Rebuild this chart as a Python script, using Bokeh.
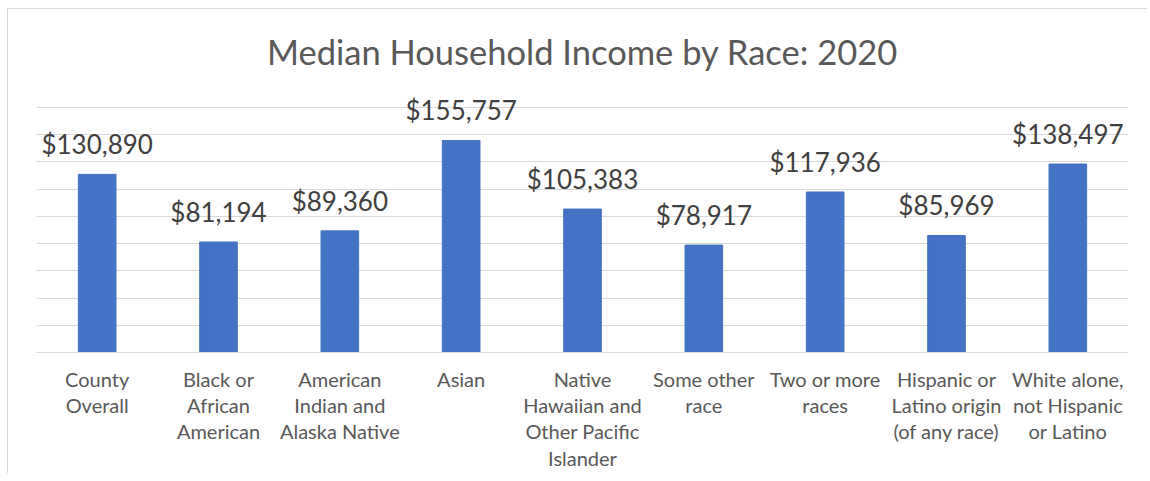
from bokeh.plotting import figure
from bokeh.models import ColumnDataSource, FactorRange, Range1d, LabelSet, Label, FixedTicker
from bokeh.core.properties import value
from bokeh.embed import file_html
from bokeh.resources import INLINE

categories = [
    "County\nOverall",
    "Black or\nAfrican\nAmerican",
    "American\nIndian and\nAlaska Native",
    "Asian",
    "Native\nHawaiian and\nOther Pacific\nIslander",
    "Some other\nrace",
    "Two or more\nraces",
    "Hispanic or\nLatino origin\n(of any race)",
    "White alone,\nnot Hispanic\nor Latino",
]
values = [130890, 81194, 89360, 155757, 105383, 78917, 117936, 85969, 138497]
labels = ["${:,}".format(v) for v in values]
y_max = 180000
grid_ticks = list(range(0, y_max + 1, 20000))
title_text = "Median Household Income by Race: 2020"

FONT = "Lato"
source = ColumnDataSource(dict(cat=categories, val=values, lab=labels))

p = figure(
    title=None,
    x_range=FactorRange(*categories, range_padding=0),
    y_range=Range1d(0, y_max * 1.4),
    width=1140, height=465,
    output_backend="svg", toolbar_location=None,
    min_border_left=28, min_border_right=20, min_border_top=0, min_border_bottom=122,
)
p.outline_line_color = None
p.background_fill_color = "white"
p.border_fill_color = "white"

p.vbar(x="cat", top="val", width=0.31, source=source, color="#4472C4")

p.yaxis.visible = False
p.yaxis.ticker = FixedTicker(ticks=grid_ticks)
p.ygrid.ticker = FixedTicker(ticks=grid_ticks)
p.ygrid.grid_line_color = "#D9D9D9"
p.ygrid.grid_line_width = 1
p.xgrid.visible = False

ax = p.xaxis[0]
ax.axis_line_color = "#D9D9D9"
ax.axis_line_width = 1
ax.major_tick_line_color = None
ax.minor_tick_line_color = None
ax.major_label_text_font = FONT
ax.major_label_text_font_size = "20px"
ax.major_label_text_color = "#595959"
ax.major_label_text_line_height = 1.1
ax.major_label_standoff = 8
ax.major_label_orientation = "horizontal"

ls = LabelSet(x="cat", y="val", text="lab", source=source,
              text_align="center", text_baseline="alphabetic", y_offset=20,
              text_font=value(FONT), text_font_size=value("26px"), text_color=value("#404040"))
p.add_layout(ls)

p.add_layout(Label(x=len(categories) / 2, y=y_max * 1.228, text=title_text,
                   text_align="center", text_baseline="middle",
                   text_font=FONT, text_font_size="34.5px", text_color="#595959"))

p.styles = {"border-top": "1px solid #D9D9D9", "border-left": "1px solid #D9D9D9",
            "margin-left": "7px", "margin-top": "8px"}

open("out.html", "w").write(file_html(p, INLINE))
